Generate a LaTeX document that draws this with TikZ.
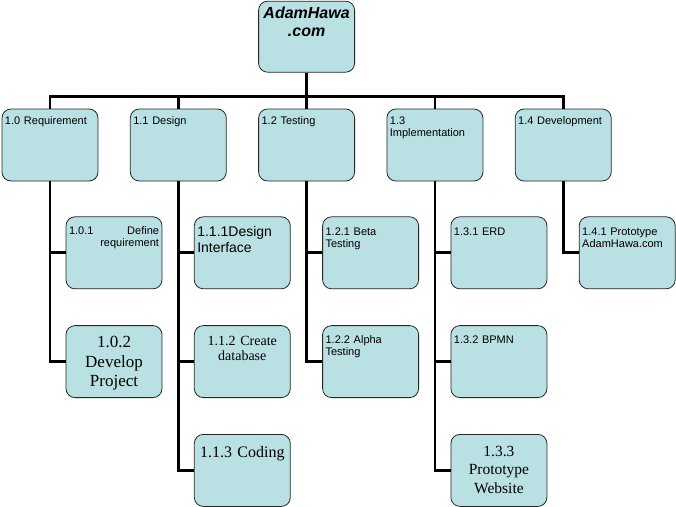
\documentclass[tikz,border=0pt]{standalone}
\usepackage{fontspec}
\setmainfont{Liberation Serif}
\setsansfont{Liberation Sans}
\usetikzlibrary{positioning}

\definecolor{wbsfill}{RGB}{185,224,227}

\begin{document}
\begin{tikzpicture}[
    node distance=36pt and 31.5pt,
    wbs_box/.style={rectangle, draw=black!85, line width=0.8pt, fill=wbsfill, rounded corners=9pt, minimum width=96pt, text width=90pt, inner sep=3pt, align=left, font=\sffamily\fontsize{11}{12}\selectfont, text height=12pt, text depth=54pt},
    sub_box/.style={wbs_box, text height=16pt, text depth=50pt},
    serif_box/.style={wbs_box, align=center, text height=19pt, text depth=47pt},
    root_box/.style={wbs_box, align=center, font=\sffamily\bfseries\itshape\fontsize{16}{18}\selectfont, text height=14pt, text depth=51pt},
    link/.style={line width=2.8pt, black}
]
    \useasboundingbox (0,0) rectangle (676pt,-506pt);

    % Level 1
    \node[wbs_box] (req) at (50pt,-145pt) {1.0 Requirement};
    \node[wbs_box, right=of req] (dsg) {1.1 Design};
    \node[wbs_box, right=of dsg] (tst) {1.2 Testing};
    \node[wbs_box, right=of tst] (imp) {1.3\\Implementation};
    \node[wbs_box, right=of imp] (dev) {1.4 Development};

    % Root
    \node[root_box, above=of tst] (root) {AdamHawa\\.com};

    % Requirement
    \node[sub_box, below=35pt of req, xshift=64pt, text height=15pt, text depth=51pt] (req1) {1.0.1\hfill Define\\\hspace*{\fill}requirement};
    \node[serif_box, below=of req1, font=\rmfamily\fontsize{17}{19.5}\selectfont] (req2) {1.0.2\\Develop\\Project};

    % Design
    \node[sub_box, below=35pt of dsg, xshift=64pt, font=\sffamily\fontsize{14}{15.5}\selectfont, text height=17pt, text depth=49pt] (dsg1) {1.1.1Design\\Interface};
    \node[serif_box, below=of dsg1, font=\rmfamily\fontsize{14}{15}\selectfont, text height=17pt, text depth=49pt] (dsg2) {1.1.2 Create\\database};
    \node[serif_box, below=of dsg2, font=\rmfamily\fontsize{16}{18}\selectfont, text height=20pt, text depth=46pt] (dsg3) {1.1.3 Coding};

    % Testing
    \node[sub_box, below=35pt of tst, xshift=64pt] (tst1) {1.2.1 Beta\\Testing};
    \node[sub_box, below=of tst1, text height=15pt, text depth=51pt] (tst2) {1.2.2 Alpha\\Testing};

    % Implementation
    \node[sub_box, below=35pt of imp, xshift=64pt] (imp1) {1.3.1 ERD};
    \node[sub_box, below=of imp1, text height=15pt, text depth=51pt] (imp2) {1.3.2 BPMN};
    \node[serif_box, below=of imp2, font=\rmfamily\fontsize{15.5}{18.5}\selectfont] (imp3) {1.3.3\\Prototype\\Website};

    % Development
    \node[sub_box, below=35pt of dev, xshift=64pt] (dev1) {1.4.1 Prototype\\AdamHawa.com};

    % Connections
    \draw[link] (req.north) -- ++(0,12pt) -| (dev.north);
    \draw[link] (root.south) -- (tst.north);
    \draw[link] (dsg.north) -- ++(0,12pt);
    \draw[link] (imp.north) -- ++(0,12pt);

    \draw[link] (req.south) |- (req1.west);
    \draw[link] (req.south) |- (req2.west);
    \draw[link] (dsg.south) |- (dsg1.west);
    \draw[link] (dsg.south) |- (dsg2.west);
    \draw[link] (dsg.south) |- (dsg3.west);
    \draw[link] (tst.south) |- (tst1.west);
    \draw[link] (tst.south) |- (tst2.west);
    \draw[link] (imp.south) |- (imp1.west);
    \draw[link] (imp.south) |- (imp2.west);
    \draw[link] (imp.south) |- (imp3.west);
    \draw[link] (dev.south) |- (dev1.west);

\end{tikzpicture}
\end{document}
